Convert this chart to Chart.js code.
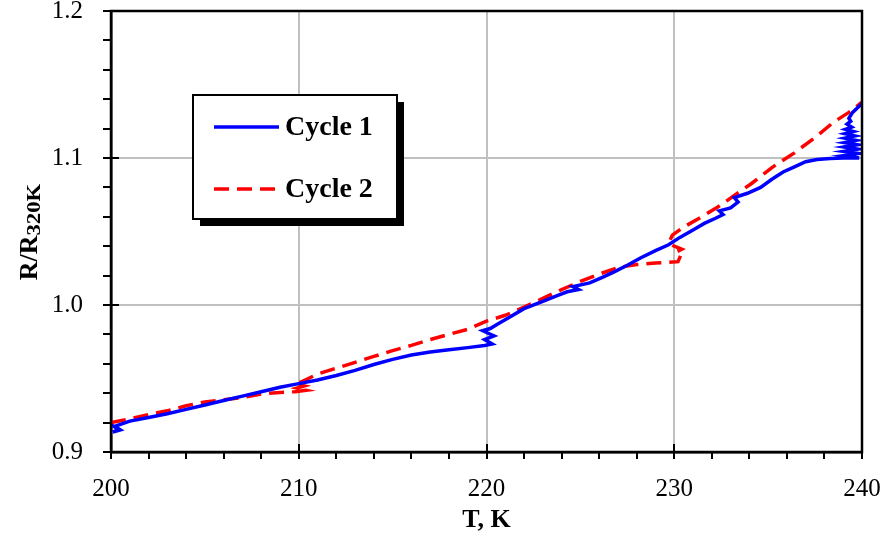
<!DOCTYPE html>
<html>
<head>
<meta charset="utf-8">
<script src="https://cdn.jsdelivr.net/npm/chart.js"></script>
<style>
  html, body { margin: 0; padding: 0; background: #fff; }
</style>
</head>
<body>
<canvas id="chart" width="888" height="542"></canvas>
<script>
// ===== data =====
const cycle1T = [200.0, 200.4, 200.1, 200.5, 200.2, 201, 202, 203, 204, 205, 206, 207, 208, 209, 210,
  211, 212, 213, 214, 215, 216, 217, 218, 219, 219.9, 220.3, 219.9, 220.4, 219.8, 220.2, 220.6, 221.2,
  222, 223, 223.8, 224.3, 224.9, 224.6, 225.5, 226.2, 226.8, 227.5, 228.2, 229, 229.7, 230.3, 231,
  231.6, 232.2, 232.6, 232.4, 233.0, 233.4, 233.2, 233.9, 234.6, 235.2, 235.8, 236.4, 237, 237.6,
  238.3, 239.0, 239.85, 239.0, 239.82, 239.02, 239.78, 239.04, 239.74, 239.06, 239.68, 239.08,
  239.62, 239.1, 239.55, 239.12, 239.45, 239.2, 239.4, 239.3, 239.5, 239.75, 240.0];
const cycle1R = [0.9185, 0.9155, 0.9135, 0.915, 0.9175, 0.921, 0.9235, 0.926, 0.929, 0.932, 0.935, 0.938, 0.941, 0.944, 0.9465,
  0.949, 0.952, 0.9555, 0.9595, 0.963, 0.966, 0.968, 0.9695, 0.971, 0.9725, 0.9735, 0.9765, 0.979, 0.9825, 0.984, 0.987, 0.9915,
  0.9975, 1.0025, 1.0065, 1.009, 1.0105, 1.0125, 1.015, 1.019, 1.0225, 1.027, 1.032, 1.037, 1.041, 1.046, 1.051,
  1.0555, 1.059, 1.0615, 1.064, 1.066, 1.07, 1.073, 1.076, 1.08, 1.0855, 1.0905, 1.094, 1.0975, 1.099,
  1.0997, 1.1, 1.1, 1.1015, 1.103, 1.1045, 1.106, 1.1075, 1.109, 1.1105, 1.112, 1.1135,
  1.115, 1.1165, 1.118, 1.1195, 1.121, 1.123, 1.125, 1.127, 1.131, 1.134, 1.137];

const cycle2T = [200, 201, 202, 203, 204, 205, 206, 207, 208, 209, 209.8, 210.4, 209.9, 210.3, 209.8, 210.2,
  211, 212, 213, 214, 215, 216, 217, 218, 219, 220, 221, 222, 223, 224, 225, 226, 227, 228, 229,
  230.2, 230.35, 230.1, 230.4, 230.0, 229.7, 229.9, 230.5, 231.4, 232.3, 233.2, 234.1, 235.2,
  236.4, 237.5, 238.5, 239.3, 240];
const cycle2R = [0.92, 0.9225, 0.9255, 0.928, 0.9315, 0.934, 0.9355, 0.937, 0.9395, 0.9405, 0.941, 0.942, 0.9435, 0.945, 0.9465, 0.948,
  0.953, 0.957, 0.961, 0.965, 0.969, 0.9725, 0.9765, 0.98, 0.9835, 0.989, 0.993, 0.9985, 1.0045, 1.0105, 1.016, 1.021, 1.0255, 1.0275, 1.0285,
  1.0295, 1.034, 1.036, 1.038, 1.04, 1.042, 1.0475, 1.053, 1.0595, 1.0665, 1.0745, 1.0825, 1.0935,
  1.1035, 1.114, 1.1245, 1.131, 1.138];

const seriesNames = ["Cycle 1", "Cycle 2"];
const xTitle = "T, K";
const yTitleMain = "R/R";
const yTitleSub = "320K";

const toPoints = (xs, ys) => xs.map((x, i) => ({ x, y: ys[i] }));

const SERIF = '"Liberation Serif", "Times New Roman", serif';

// ticks, box, legend and titles drawn over the chart
const decor = {
  id: "decor",
  afterDraw(chart) {
    const { ctx, chartArea: a, scales } = chart;
    const xs = scales.x, ys = scales.y;
    ctx.save();
    ctx.strokeStyle = "#000";
    ctx.lineWidth = 2.5;
    ctx.strokeRect(a.left, a.top, a.right - a.left, a.bottom - a.top);

    // tick marks
    ctx.lineWidth = 2;
    ctx.beginPath();
    for (let v = 200; v <= 240.001; v += 2) {
      const px = Math.round(xs.getPixelForValue(v));
      const major = Math.abs(v % 10) < 0.01;
      ctx.moveTo(px, a.bottom + 7);
      ctx.lineTo(px, major ? a.bottom - 8 : a.bottom);
    }
    for (let i = 0; i <= 15; i++) {
      const v = 0.9 + i * 0.02;
      const py = Math.round(ys.getPixelForValue(v));
      const major = i % 5 === 0;
      ctx.moveTo(a.left - 8, py);
      ctx.lineTo(major ? a.left + 8 : a.left, py);
    }
    ctx.stroke();

    // legend box with shadow
    ctx.fillStyle = "#000";
    ctx.fillRect(200, 102, 204, 124);
    ctx.fillStyle = "#fff";
    ctx.fillRect(193, 95, 204, 124);
    ctx.lineWidth = 2;
    ctx.strokeRect(193, 95, 204, 124);

    const rows = [127, 189];
    chart.data.datasets.forEach((ds, i) => {
      ctx.beginPath();
      ctx.strokeStyle = ds.borderColor;
      ctx.lineWidth = 3.5;
      ctx.setLineDash(ds.borderDash || []);
      ctx.moveTo(214, rows[i]);
      ctx.lineTo(279, rows[i]);
      ctx.stroke();
      ctx.setLineDash([]);
      ctx.fillStyle = "#000";
      ctx.font = "bold 28px " + SERIF;
      ctx.textBaseline = "alphabetic";
      ctx.textAlign = "left";
      ctx.fillText(ds.label, 285, rows[i] + 8);
    });

    // x title
    ctx.fillStyle = "#000";
    ctx.font = "bold 26px " + SERIF;
    ctx.textAlign = "center";
    ctx.textBaseline = "middle";
    ctx.fillText(xTitle, (a.left + a.right) / 2, 520);

    // y title with subscript
    ctx.translate(37, 232);
    ctx.rotate(-Math.PI / 2);
    ctx.textBaseline = "alphabetic";
    ctx.textAlign = "left";
    ctx.font = "bold 26px " + SERIF;
    const wMain = ctx.measureText(yTitleMain).width;
    ctx.font = "bold 19px " + SERIF;
    const wSub = ctx.measureText(yTitleSub).width * 1.2;
    const x0 = -(wMain + wSub) / 2;
    ctx.font = "bold 26px " + SERIF;
    ctx.fillText(yTitleMain, x0, 0);
    ctx.font = "bold 19px " + SERIF;
    ctx.translate(x0 + wMain, 3);
    ctx.scale(1.2, 1);
    ctx.fillText(yTitleSub, 0, 0);
    ctx.restore();
  },
};

const noPad = (s) => {
  s.paddingTop = 0;
  s.paddingBottom = 0;
  s.paddingLeft = 0;
  s.paddingRight = 0;
};

new Chart(document.getElementById("chart"), {
  type: "scatter",
  data: {
    datasets: [
      {
        label: seriesNames[0],
        data: toPoints(cycle1T, cycle1R),
        showLine: true,
        borderColor: "#0000ff",
        borderWidth: 3.5,
        pointRadius: 0,
        tension: 0,
      },
      {
        label: seriesNames[1],
        data: toPoints(cycle2T, cycle2R),
        showLine: true,
        borderColor: "#ff0000",
        borderWidth: 3.5,
        borderDash: [15, 8],
        pointRadius: 0,
        tension: 0,
      },
    ],
  },
  options: {
    responsive: false,
    devicePixelRatio: 1,
    animation: false,
    layout: { padding: { top: 11, right: 26, left: 0, bottom: 0 } },
    plugins: { legend: { display: false }, tooltip: { enabled: false } },
    scales: {
      x: {
        type: "linear",
        min: 200,
        max: 240,
        afterFit: (s) => { s.height = 90; noPad(s); },
        ticks: {
          stepSize: 10,
          padding: 22,
          color: "#000",
          font: { family: SERIF, size: 25 },
        },
        grid: { color: "#c0c0c0", lineWidth: 2, drawTicks: false },
        border: { color: "#000", width: 2.5 },
      },
      y: {
        type: "linear",
        min: 0.9,
        max: 1.2,
        afterFit: (s) => { s.width = 111; noPad(s); },
        ticks: {
          stepSize: 0.1,
          padding: 28,
          color: "#000",
          font: { family: SERIF, size: 25 },
          callback: (v) => v.toFixed(1),
        },
        grid: { color: "#c0c0c0", lineWidth: 2, drawTicks: false },
        border: { color: "#000", width: 2.5 },
      },
    },
  },
  plugins: [decor],
});
</script>
</body>
</html>
